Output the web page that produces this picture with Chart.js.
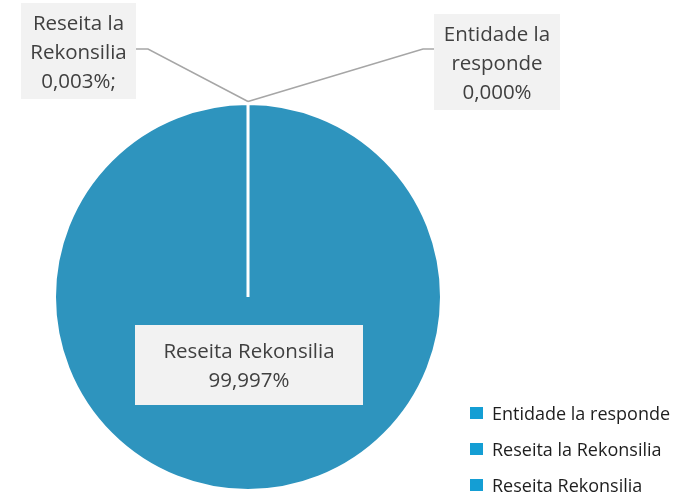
<!DOCTYPE html>
<html>
<head>
<meta charset="utf-8">
<script src="https://cdn.jsdelivr.net/npm/chart.js@4.4.1/dist/chart.umd.min.js"></script>
<style>
  html, body { margin: 0; padding: 0; background: #fff; }
  #wrap { position: relative; width: 684px; height: 496px; }
  #legend { position: absolute; left: 470px; top: 395px; margin: 0; padding: 0; list-style: none;
            font: 18px "Open Sans", sans-serif; color: #1e1e1e; }
  #legend li { display: flex; align-items: center; height: 36px; white-space: nowrap; }
  #legend .key { width: 13px; height: 12px; margin-right: 9px; }
</style>
</head>
<body>
<div id="wrap">
  <canvas id="pie" width="684" height="496"></canvas>
  <ul id="legend"></ul>
</div>
<script>
// shares of the three categories, in percent
const categories = ['Entidade la responde', 'Reseita la Rekonsilia', 'Reseita Rekonsilia'];
const shares = [0.000, 0.003, 99.997];
const valueSuffix = ['', ';', ''];

const sliceColor = '#2e94be';
const keyColor = '#149ed4';

function fmtPct(v, i) {
  return v.toFixed(3).replace('.', ',') + '%' + (valueSuffix[i] || '');
}

// wrap a label into lines that fit maxWidth
function wrapText(ctx, text, maxWidth) {
  const words = text.split(' ');
  const lines = [];
  let cur = '';
  for (const w of words) {
    const t = cur ? cur + ' ' + w : w;
    if (cur && ctx.measureText(t).width > maxWidth) { lines.push(cur); cur = w; }
    else cur = t;
  }
  if (cur) lines.push(cur);
  return lines;
}

// grey callout boxes with elbow leader lines, anchored on each arc
const calloutLabels = {
  id: 'calloutLabels',
  afterDatasetsDraw(chart, args, opts) {
    const ctx = chart.ctx;
    const meta = chart.getDatasetMeta(0);
    const data = chart.data.datasets[0].data;
    ctx.save();
    ctx.font = opts.fontSize + 'px ' + opts.fontFamily;
    meta.data.forEach((arc, i) => {
      const box = opts.boxes[i];
      if (!box) return;
      const p = arc.getProps(['x', 'y', 'startAngle', 'endAngle', 'outerRadius'], true);
      const mid = (p.startAngle + p.endAngle) / 2;
      const ax = p.x + Math.cos(mid) * (p.outerRadius + 2);
      const ay = p.y + Math.sin(mid) * (p.outerRadius + 2);

      const left = box.cx - box.w / 2, top = box.cy - box.h / 2;

      if (box.leader) {
        const edgeX = box.cx < ax ? left + box.w : left;
        const elbowX = box.cx < ax ? edgeX + 12 : edgeX - 11;
        ctx.beginPath();
        ctx.moveTo(edgeX, box.lineY);
        ctx.lineTo(elbowX, box.lineY);
        ctx.lineTo(ax, ay);
        ctx.strokeStyle = opts.lineColor;
        ctx.lineWidth = 1.5;
        ctx.stroke();
      }

      ctx.fillStyle = opts.boxColor;
      ctx.fillRect(left, top, box.w, box.h);

      const lines = wrapText(ctx, chart.data.labels[i], box.w - 8);
      lines.push(fmtPct(data[i], i));
      ctx.fillStyle = opts.textColor;
      ctx.textAlign = 'center';
      ctx.textBaseline = 'middle';
      const lh = opts.lineHeight;
      const y0 = box.cy + opts.textShift - (lines.length - 1) * lh / 2;
      lines.forEach((ln, k) => ctx.fillText(ln, box.cx, y0 + k * lh));
    });
    ctx.restore();
  }
};

const chart = new Chart(document.getElementById('pie'), {
  type: 'pie',
  data: {
    labels: categories,
    datasets: [{
      data: shares,
      backgroundColor: sliceColor,
      borderColor: '#ffffff',
      borderWidth: 3
    }]
  },
  options: {
    responsive: false,
    animation: false,
    radius: 193.5,
    layout: { padding: { top: 98, right: 188, bottom: 0, left: 0 } },
    plugins: {
      legend: { display: false },
      tooltip: { enabled: false },
      calloutLabels: {
        fontFamily: '"Open Sans", sans-serif',
        fontSize: 20.5,
        lineHeight: 29,
        textShift: 2,
        textColor: '#404040',
        boxColor: '#f2f2f2',
        lineColor: '#a6a6a6',
        boxes: [
          { cx: 497, cy: 62, w: 126, h: 96, leader: true, lineY: 49 },
          { cx: 78.5, cy: 51, w: 115, h: 96, leader: true, lineY: 49 },
          { cx: 249, cy: 365, w: 228, h: 80, leader: false }
        ]
      }
    }
  },
  plugins: [calloutLabels]
});

// legend list built from the same categories
const legendEl = document.getElementById('legend');
chart.data.labels.forEach(name => {
  const li = document.createElement('li');
  li.innerHTML = `<span class="key" style="background:${keyColor}"></span><span>${name}</span>`;
  legendEl.appendChild(li);
});
</script>
</body>
</html>
